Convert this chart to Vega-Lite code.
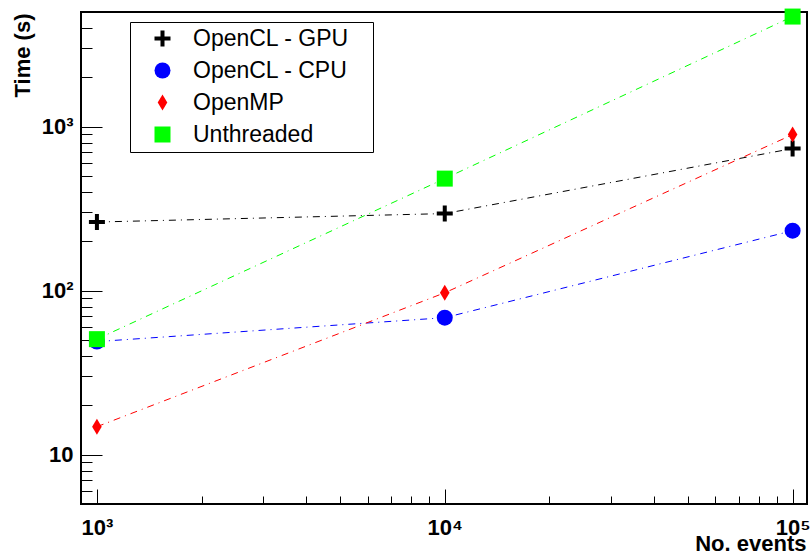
{
  "$schema": "https://vega.github.io/schema/vega-lite/v6.json",
  "width": 726,
  "height": 492,
  "autosize": {"type": "none"},
  "padding": {"left": 81, "top": 12, "right": 3, "bottom": 52},
  "background": "white",
  "config": {
    "view": {"stroke": "black", "strokeWidth": 2},
    "font": "Liberation Sans",
    "legend": {
      "orient": "none", "legendX": 49, "legendY": 10, "direction": "vertical",
      "fillColor": "white", "strokeColor": "black", "padding": 5,
      "symbolOffset": 16, "labelOffset": 19, "rowPadding": 8,
      "labelFont": "Liberation Sans", "labelFontSize": 23, "labelColor": "black",
      "symbolSize": 256, "symbolStrokeWidth": 0, "labelLimit": 400,
      "titleOrient": "right", "titlePadding": 12, "titleColor": "white",
      "titleFontSize": 23, "titleFont": "Liberation Sans", "titleFontWeight": "normal"
    }
  },
  "data": {
    "values": [
      {"series": "OpenCL - GPU", "events": 1000, "time": 262},
      {"series": "OpenCL - GPU", "events": 10000, "time": 295},
      {"series": "OpenCL - GPU", "events": 100000, "time": 735},
      {"series": "OpenCL - CPU", "events": 1000, "time": 48.9},
      {"series": "OpenCL - CPU", "events": 10000, "time": 68.4},
      {"series": "OpenCL - CPU", "events": 100000, "time": 232},
      {"series": "OpenMP", "events": 1000, "time": 14.8},
      {"series": "OpenMP", "events": 10000, "time": 97},
      {"series": "OpenMP", "events": 100000, "time": 894},
      {"series": "Unthreaded", "events": 1000, "time": 50.6},
      {"series": "Unthreaded", "events": 10000, "time": 482},
      {"series": "Unthreaded", "events": 100000, "time": 4690}
    ]
  },
  "encoding": {
    "x": {
      "field": "events",
      "type": "quantitative",
      "scale": {"type": "log", "domain": [900, 110000], "nice": false},
      "axis": {
        "values": [1000, 2000, 3000, 4000, 5000, 6000, 7000, 8000, 9000, 10000, 20000, 30000, 40000, 50000, 60000, 70000, 80000, 90000, 100000],
        "labelExpr": "datum.value == 1000 ? '10³' : datum.value == 10000 ? '10⁴' : datum.value == 100000 ? '10⁵' : ''",
        "labelFont": "Liberation Sans",
        "labelFontWeight": "bold",
        "labelFontSize": 22,
        "labelColor": "black",
        "labelBaseline": "alphabetic",
        "labelPadding": 45,
        "labelFlush": false,
        "labelOverlap": false,
        "tickSize": {"condition": {"test": "abs(log(datum.value)/LN10 - round(log(datum.value)/LN10)) < 0.000001", "value": -15}, "value": -8},
        "tickColor": "black",
        "tickWidth": 1,
        "domain": false,
        "grid": false,
        "title": "No. events",
        "titleFont": "Liberation Sans",
        "titleFontSize": 22,
        "titleFontWeight": "bold",
        "titleColor": "black",
        "titleAnchor": "end",
        "titleAlign": "right",
        "titleBaseline": "alphabetic",
        "titleX": 725,
        "titleY": 46
      }
    },
    "y": {
      "field": "time",
      "type": "quantitative",
      "scale": {"type": "log", "domain": [5, 5000], "nice": false},
      "axis": {
        "values": [6, 7, 8, 9, 10, 20, 30, 40, 50, 60, 70, 80, 90, 100, 200, 300, 400, 500, 600, 700, 800, 900, 1000, 2000, 3000, 4000, 5000],
        "labelExpr": "datum.value == 10 ? '10' : datum.value == 100 ? '10²' : datum.value == 1000 ? '10³' : ''",
        "labelFont": "Liberation Sans",
        "labelFontWeight": "bold",
        "labelFontSize": 22,
        "labelColor": "black",
        "labelBaseline": "middle",
        "labelPadding": 29,
        "labelOverlap": false,
        "tickSize": {"condition": {"test": "abs(log(datum.value)/LN10 - round(log(datum.value)/LN10)) < 0.000001", "value": -21}, "value": -11},
        "tickColor": "black",
        "tickWidth": 1,
        "domain": false,
        "grid": false,
        "title": "Time (s)",
        "titleFont": "Liberation Sans",
        "titleFontSize": 22,
        "titleFontWeight": "bold",
        "titleColor": "black",
        "titleAnchor": "end",
        "titleAngle": -90,
        "titleAlign": "right",
        "titleBaseline": "middle",
        "titleX": -59,
        "titleY": 1
      }
    },
    "color": {
      "field": "series",
      "type": "nominal",
      "title": ".",
      "scale": {"domain": ["OpenCL - GPU", "OpenCL - CPU", "OpenMP", "Unthreaded"], "range": ["#000000", "#0000ff", "#ff0000", "#00ff00"]}
    }
  },
  "layer": [
    {
      "mark": {"type": "line", "strokeWidth": 1, "strokeDash": [7, 5, 1, 5]},
      "encoding": {}
    },
    {
      "mark": {"type": "point", "filled": true, "opacity": 1, "size": 256, "strokeWidth": 0},
      "encoding": {
        "shape": {
          "field": "series",
          "type": "nominal",
          "title": ".",
          "scale": {"domain": ["OpenCL - GPU", "OpenCL - CPU", "OpenMP", "Unthreaded"], "range": ["M-0.25,-1H0.25V-0.25H1V0.25H0.25V1H-0.25V0.25H-1V-0.25H-0.25Z", "circle", "M0,-1L0.6,0L0,1L-0.6,0Z", "square"]}
        }
      }
    }
  ]
}
